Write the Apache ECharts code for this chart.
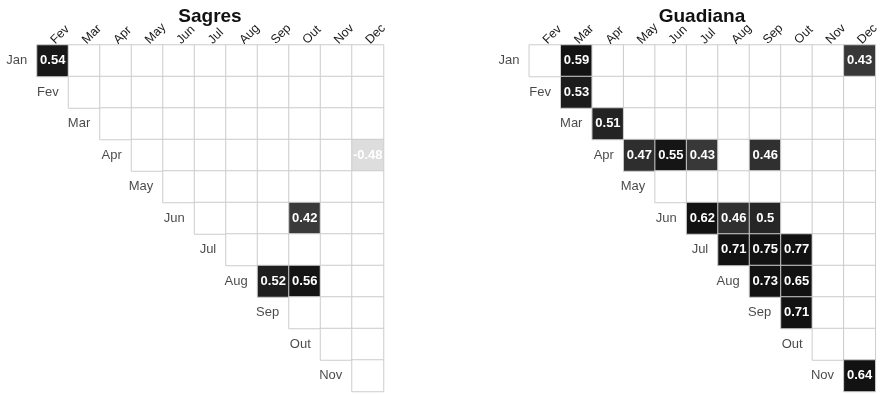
<!DOCTYPE html>
<html>
<head>
<meta charset="utf-8">
<script src="https://cdn.jsdelivr.net/npm/echarts@6/dist/echarts.min.js"></script>
<style>
  html, body { margin: 0; padding: 0; background: #fff; }
  #chart { width: 882px; height: 394px; }
</style>
</head>
<body>
<div id="chart"></div>
<script>
// Month labels: columns run Fev..Dec, rows run Jan..Nov (upper triangle)
const colMonths = ['Fev', 'Mar', 'Apr', 'May', 'Jun', 'Jul', 'Aug', 'Sep', 'Out', 'Nov', 'Dec'];
const rowMonths = ['Jan', 'Fev', 'Mar', 'Apr', 'May', 'Jun', 'Jul', 'Aug', 'Sep', 'Out', 'Nov'];

// Significant correlations: [row month, column month, r]
const sagresCells = [
  ['Jan', 'Fev', 0.54],
  ['Apr', 'Dec', -0.48],
  ['Jun', 'Out', 0.42],
  ['Aug', 'Sep', 0.52],
  ['Aug', 'Out', 0.56]
];
const guadianaCells = [
  ['Jan', 'Mar', 0.59],
  ['Jan', 'Dec', 0.43],
  ['Fev', 'Mar', 0.53],
  ['Mar', 'Apr', 0.51],
  ['Apr', 'May', 0.47],
  ['Apr', 'Jun', 0.55],
  ['Apr', 'Jul', 0.43],
  ['Apr', 'Sep', 0.46],
  ['Jun', 'Jul', 0.62],
  ['Jun', 'Aug', 0.46],
  ['Jun', 'Sep', 0.5],
  ['Jul', 'Aug', 0.71],
  ['Jul', 'Sep', 0.75],
  ['Jul', 'Out', 0.77],
  ['Aug', 'Sep', 0.73],
  ['Aug', 'Out', 0.65],
  ['Sep', 'Out', 0.71],
  ['Nov', 'Dec', 0.64]
];

// Grey ramp used for the cell fill
function greyFor(v) {
  const stops = [[-0.5, 222], [-0.4, 215], [0.4, 64], [0.42, 58], [0.46, 48], [0.5, 38], [0.55, 21], [0.6, 18], [1, 17]];
  let g = stops[stops.length - 1][1];
  if (v <= stops[0][0]) g = stops[0][1];
  else {
    for (let i = 1; i < stops.length; i++) {
      if (v <= stops[i][0]) {
        const [x0, g0] = stops[i - 1], [x1, g1] = stops[i];
        g = g0 + (g1 - g0) * (v - x0) / (x1 - x0);
        break;
      }
    }
  }
  g = Math.round(g);
  return 'rgb(' + g + ',' + g + ',' + g + ')';
}

function buildCells(cells) {
  const lookup = {};
  cells.forEach(([r, c, v]) => { lookup[r + '|' + c] = v; });
  const out = [];
  for (let r = 0; r < rowMonths.length; r++) {
    for (let k = r; k < colMonths.length; k++) {
      const v = lookup[rowMonths[r] + '|' + colMonths[k]];
      if (v === undefined) {
        out.push({ value: [k, r, 0], itemStyle: { color: '#ffffff' }, label: { show: false } });
      } else {
        out.push({ value: [k, r, v], itemStyle: { color: greyFor(v) }, label: { show: true } });
      }
    }
  }
  return out;
}

function rowLabelPoints() {
  return rowMonths.map((m, r) => ({ value: [r, r], name: m }));
}

const FONT = '"Liberation Sans", Arial, Helvetica, sans-serif';
const grids = [
  { left: 37, top: 45, width: 346.5, height: 346.5 },
  { left: 529.3, top: 45, width: 346.5, height: 346.5 }
];

const xAxes = grids.map((g, i) => ({
  gridIndex: i,
  type: 'category',
  data: colMonths,
  position: 'top',
  axisLine: { show: false },
  axisTick: { show: false },
  splitLine: { show: false },
  axisLabel: {
    rotate: -45,
    align: 'left',
    verticalAlign: 'middle',
    interval: 0,
    margin: 3,
    fontFamily: FONT,
    fontSize: 12.5,
    color: '#1a1a1a'
  }
}));
const yAxes = grids.map((g, i) => ({
  gridIndex: i,
  type: 'category',
  data: rowMonths,
  inverse: true,
  axisLine: { show: false },
  axisTick: { show: false },
  splitLine: { show: false },
  axisLabel: { show: false }
}));

function heatSeries(idx, cells) {
  return {
    type: 'heatmap',
    xAxisIndex: idx,
    yAxisIndex: idx,
    data: buildCells(cells),
    itemStyle: { borderColor: '#cccccc', borderWidth: 1 },
    label: {
      color: '#ffffff',
      fontFamily: FONT,
      fontWeight: 'bold',
      fontSize: 13,
      formatter: p => String(p.value[2])
    },
    emphasis: { disabled: true }
  };
}

function rowLabelSeries(idx) {
  return {
    type: 'scatter',
    xAxisIndex: idx,
    yAxisIndex: idx,
    symbolSize: 1,
    itemStyle: { color: 'rgba(0,0,0,0)' },
    data: rowLabelPoints(),
    label: {
      show: true,
      position: 'left',
      distance: 25,
      formatter: p => p.name,
      fontFamily: FONT,
      fontSize: 13,
      color: '#1a1a1a'
    },
    silent: true,
    z: 5
  };
}

const chart = echarts.init(document.getElementById('chart'), null, { renderer: 'canvas' });
chart.setOption({
  animation: false,
  backgroundColor: '#ffffff',
  title: [
    { text: 'Sagres', left: 205, top: 2, textAlign: 'center',
      textStyle: { fontFamily: FONT, fontWeight: 'bold', fontSize: 19, color: '#111' } },
    { text: 'Guadiana', left: 697, top: 2, textAlign: 'center',
      textStyle: { fontFamily: FONT, fontWeight: 'bold', fontSize: 19, color: '#111' } }
  ],
  grid: grids,
  xAxis: xAxes,
  yAxis: yAxes,
  series: [
    heatSeries(0, sagresCells),
    rowLabelSeries(0),
    heatSeries(1, guadianaCells),
    rowLabelSeries(1)
  ]
});
</script>
</body>
</html>
